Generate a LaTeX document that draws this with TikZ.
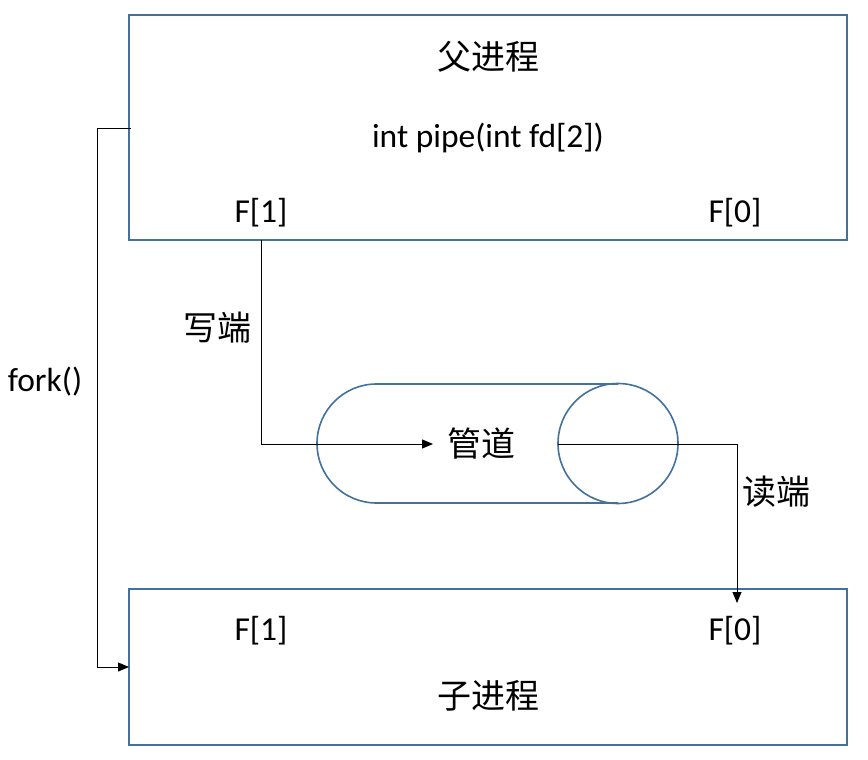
\documentclass[tikz,border=0pt]{standalone}
\usepackage{fontspec}
\setmainfont{Carlito}
\newfontfamily\cjk{Noto Sans CJK SC}
\usetikzlibrary{arrows.meta}
\definecolor{boxblue}{HTML}{41719C}
\begin{document}
\begin{tikzpicture}[x=1pt,y=-1pt,
  box/.style={draw=boxblue,line width=1.6pt,fill=white,inner sep=0pt},
  conn/.style={draw=black,line width=1pt},
  tip/.style={-{Triangle[length=11pt,width=9pt]}},
  lbl/.style={font=\fontsize{33.5}{40}\selectfont,inner sep=0pt},
  cjklbl/.style={font=\cjk\fontsize{34}{40}\selectfont,inner sep=0pt}]
\useasboundingbox (0,0) rectangle (868,760);
% boxes
\node[box,minimum width=718pt,minimum height=225pt] (parent) at (488,127.5) {};
\node[box,minimum width=718pt,minimum height=156pt] (child) at (488,667) {};
% pipe
\draw[boxblue,line width=1.6pt] (618,384) -- (376.5,384) arc[start angle=270,end angle=90,radius=59.5] -- (618,503);
\node[draw=boxblue,line width=1.6pt,circle,minimum size=120pt,inner sep=0pt] (pipeR) at (618,443.5) {};
% texts
\node[cjklbl] (ptitle) at (488,57) {父进程};
\node[lbl] (pcall) at (488,138) {int pipe(int fd[2])};
\node[lbl] (pf1) at (261,213) {F[1]};
\node[lbl] (pf0) at (735,213) {F[0]};
\node[cjklbl] (pipe) at (481,444) {管道};
\node[cjklbl] (write) at (217,328) {写端};
\node[cjklbl] (read) at (776,492) {读端};
\node[lbl] (fork) at (45,382) {fork()};
\node[lbl] (cf1) at (261,631) {F[1]};
\node[lbl] (cf0) at (735,631) {F[0]};
\node[cjklbl] (ctitle) at (488,696) {子进程};
% connectors
\coordinate (wstart) at (261,240);
\coordinate (wend) at (433,444);
\draw[conn,tip] (wstart) |- (wend);
\coordinate (rstart) at (558,444);
\coordinate (rend) at (737,603);
\draw[conn,tip] (rstart) -| (rend);
\coordinate (fstart) at (131,128);
\coordinate (fcorner) at (97,128);
\coordinate (fend) at (129,667);
\draw[conn,tip] (fstart) -- (fcorner) |- (fend);
\end{tikzpicture}
\end{document}
